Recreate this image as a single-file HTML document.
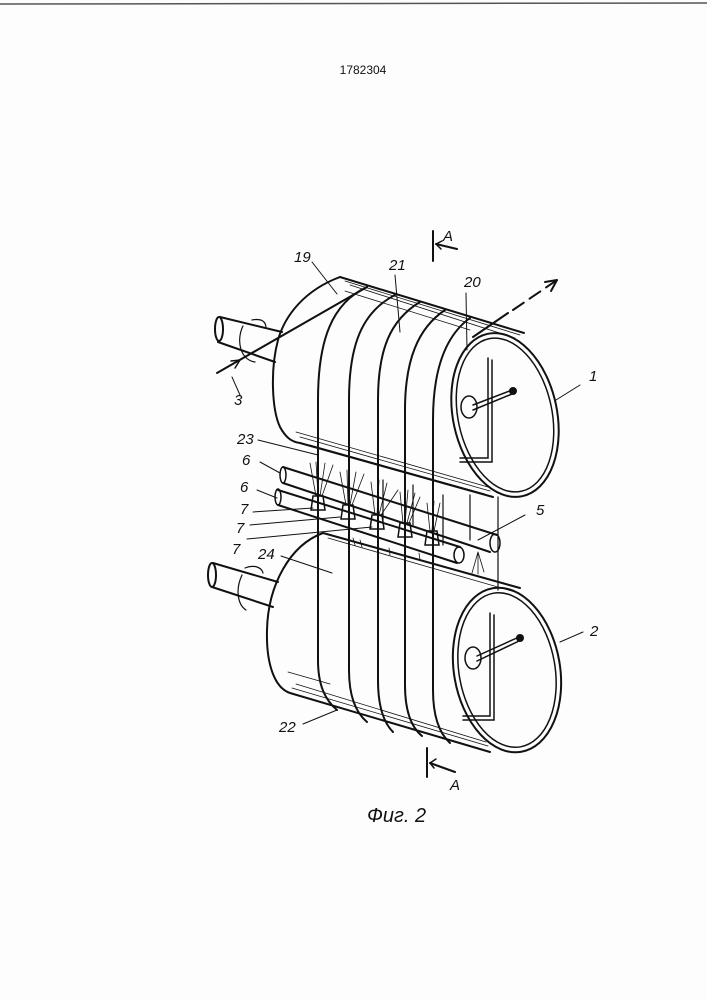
<!DOCTYPE html>
<html><head><meta charset="utf-8"><style>
html,body{margin:0;padding:0;background:#fff;}
svg{display:block;}
text{font-family:"Liberation Sans",sans-serif;fill:#111;}
.it{font-style:italic;}
</style></head><body>
<svg width="707" height="1000" viewBox="0 0 707 1000" xmlns="http://www.w3.org/2000/svg">
<rect width="707" height="1000" fill="#fdfdfd"/>
<line x1="0" y1="4" x2="707" y2="3" stroke="#555" stroke-width="1.5"/>
<text x="363" y="74" font-size="12" text-anchor="middle">1782304</text>

<g fill="none" stroke="#111" stroke-width="2" stroke-linecap="round">
<!-- top shaft -->
<path d="M220,317 L282,332 M218,342 L275,362" />
<ellipse cx="219" cy="329" rx="4" ry="12"/>
<path d="M243,326 C236,340 240,360 255,362 M252,320 C262,318 266,322 266,328" stroke-width="1.2"/>
<!-- top cylinder -->
<path d="M340,277 C305,290 285,315 278,340 C270,370 272,410 280,427 C286,438 292,442 300,443 L493,497"/>
<path d="M340,277 L524,333"/>
<g stroke-width="0.8">
<path d="M345,281 L520,335 M350,285 L515,338 M345,291 L470,330 M300,437 L490,491 M296,432 L488,487 M310,445 L485,494"/>
</g>
<ellipse cx="505" cy="415" rx="52" ry="83" transform="rotate(-12 505 415)"/>
<ellipse cx="505" cy="415" rx="47" ry="78" transform="rotate(-12 505 415)" stroke-width="1.5"/>
<path d="M488,358 L488,458 L460,458 M492,360 L492,462 L460,462" stroke-width="1.5"/>
<ellipse cx="469" cy="407" rx="8" ry="11" stroke-width="1.5"/>
<path d="M473,405 L512,390 M473,410 L512,394" stroke-width="1.5"/>
<circle cx="513" cy="391" r="3" fill="#111"/>
<!-- bands top -->
<path d="M367,287 C332,303 318,340 318,400 L318,600"/>
<path d="M395,295 C362,312 349,345 349,400 L349,600"/>
<path d="M420,302 C390,320 378,350 378,400 L378,600"/>
<path d="M445,310 C418,328 405,360 405,410 L405,600"/>
<path d="M470,318 C445,336 433,370 433,420 L433,600"/>
<path d="M443,495 L443,545 M470,495 L470,540 M498,497 L498,590 M383,480 L383,520 M413,485 L413,525" stroke-width="1.2"/>
<!-- strand 3 -->
<path d="M217,373 L367,287"/>
<path d="M473,337 L508,313"/>
<path d="M513,310 L557,280" stroke-dasharray="13,7"/>
<path d="M557,280 L545,282 M557,280 L551,291" stroke-width="2"/>
<path d="M240,360 L231,361 M240,360 L235,368" stroke-width="1.5"/>

<!-- pipes -->
<path d="M283,467 L497,535 M283,483 L490,552"/>
<ellipse cx="283" cy="475" rx="3" ry="8" stroke-width="1.5"/>
<ellipse cx="495" cy="543" rx="5" ry="9" stroke-width="1.5"/>
<path d="M278,490 L460,547 M278,505 L457,563"/>
<ellipse cx="278" cy="497" rx="3" ry="8" stroke-width="1.5"/>
<ellipse cx="459" cy="555" rx="5" ry="8" stroke-width="1.5"/>
<g stroke-width="1.5">
<path d="M313,496 L323,496 L325,510 L311,510 Z"/>
<path d="M343,505 L353,505 L355,519 L341,519 Z"/>
<path d="M372,515 L382,515 L384,529 L370,529 Z"/>
<path d="M400,523 L410,523 L412,537 L398,537 Z"/>
<path d="M427,531 L437,531 L439,545 L425,545 Z"/>
</g>
<g stroke-width="0.8">
<path d="M316,496 L310,463 M318,496 L316,462 M320,496 L325,463 M322,496 L333,465"/>
<path d="M346,505 L340,472 M348,505 L347,470 M350,505 L356,472 M352,505 L364,474"/>
<path d="M375,515 L371,482 M377,515 L379,480 M379,515 L387,483 M381,515 L398,490"/>
<path d="M403,523 L400,492 M405,523 L408,490 M407,523 L415,493 M409,523 L420,497"/>
<path d="M430,531 L427,503 M432,531 L434,501 M434,531 L440,503"/>
<path d="M478,552 L472,573 M478,552 L478,574 M478,552 L484,572"/>
<path d="M355,545 L353,538 M362,547 L360,540 M390,555 L389,548 M420,560 L419,553"/>
</g>

<!-- bottom shaft -->
<path d="M213,563 L278,582 M212,587 L273,607"/>
<ellipse cx="212" cy="575" rx="4" ry="12"/>
<path d="M242,575 C235,590 238,605 246,610 M245,568 C255,564 262,568 263,573" stroke-width="1.2"/>
<!-- bottom cylinder -->
<path d="M323,533 C290,545 268,585 267,630 C266,665 275,688 290,693 L490,752"/>
<path d="M323,533 L520,588"/>
<g stroke-width="0.8">
<path d="M328,538 L515,592 M292,688 L488,746 M296,684 L486,742 M288,672 L330,684"/>
</g>
<ellipse cx="507" cy="670" rx="53" ry="83" transform="rotate(-10 507 670)"/>
<ellipse cx="507" cy="670" rx="48" ry="78" transform="rotate(-10 507 670)" stroke-width="1.5"/>
<path d="M490,613 L490,716 L463,716 M494,615 L494,720 L463,720" stroke-width="1.5"/>
<ellipse cx="473" cy="658" rx="8" ry="11" stroke-width="1.5"/>
<path d="M477,656 L519,637 M477,661 L519,641" stroke-width="1.5"/>
<circle cx="520" cy="638" r="3" fill="#111"/>
<!-- bands bottom -->
<path d="M318,600 L318,660 C318,685 325,700 337,710"/>
<path d="M349,600 L349,670 C349,695 355,712 367,722"/>
<path d="M378,600 L378,680 C378,705 383,722 393,732"/>
<path d="M405,600 L405,685 C405,710 411,727 422,736"/>
<path d="M433,600 L433,690 C433,715 439,733 450,743"/>

<!-- leaders -->
<g stroke-width="1">
<path d="M312,262 L337,294 M395,275 L400,332 M466,293 L467,350 M556,400 L580,385 M232,377 L240,395"/>
<path d="M258,440 L318,455 M260,462 L280,473 M257,490 L277,498"/>
<path d="M253,512 L313,508 M250,525 L340,517 M247,539 L372,527 M281,556 L332,573"/>
<path d="M525,515 L478,540 M560,642 L583,632 M303,724 L337,710"/>
</g>
<!-- section A markers -->
<path d="M433,231 L433,261 M457,249 L436,244 M427,748 L427,777 M455,772 L430,763" stroke-width="2"/>
<path d="M436,244 L442,241 M436,244 L441,249 M430,763 L436,759 M430,763 L434,768" stroke-width="1.5"/>
</g>

<g class="it" font-size="15">
<text x="443" y="241">A</text>
<text x="450" y="790">A</text>
<text x="294" y="262">19</text>
<text x="389" y="270">21</text>
<text x="464" y="287">20</text>
<text x="589" y="381">1</text>
<text x="234" y="405">3</text>
<text x="237" y="444">23</text>
<text x="242" y="465">6</text>
<text x="240" y="492">6</text>
<text x="240" y="514">7</text>
<text x="236" y="533">7</text>
<text x="232" y="554">7</text>
<text x="258" y="559">24</text>
<text x="536" y="515">5</text>
<text x="590" y="636">2</text>
<text x="279" y="732">22</text>
<text x="367" y="822" font-size="20">Фиг. 2</text>
</g>
</svg>
</body></html>
